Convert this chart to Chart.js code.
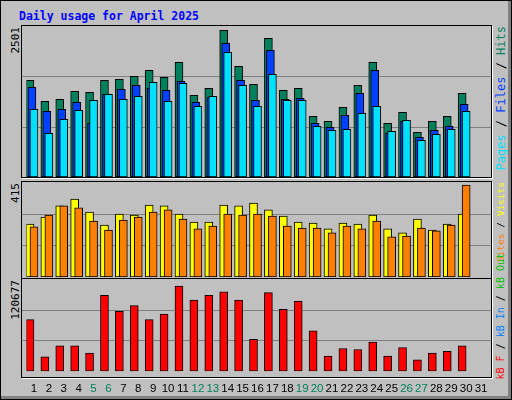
<!DOCTYPE html>
<html>
<head>
<meta charset="utf-8">
<script src="https://cdn.jsdelivr.net/npm/chart.js@4"></script>
<style>
  body { margin: 0; }
  #wrap { position: relative; width: 512px; height: 400px; background: #c0c0c0; box-sizing: border-box;
    border: 1px solid #000; box-shadow: inset -3px -3px 0 #808080; overflow: hidden; }
  .panel { position: absolute; left: 20px; width: 469px; background: #c0c0c0; border: 1px solid #000;
    box-shadow: 1px 1px 0 #fff; }
  canvas { position: absolute; }
  .vt { position: absolute; writing-mode: vertical-rl; transform: rotate(180deg); white-space: nowrap;
    font-family: "DejaVu Sans Mono", monospace; font-size: 11px; }
  #title { position: absolute; left: 18px; top: 8px; color: #0000ff; font: bold 11.5px "DejaVu Sans Mono", monospace; }
</style>
</head>
<body>
<div id="wrap">
  <div id="title">Daily usage for April 2025</div>
  <div class="panel" style="top:24px;height:151px"></div>
  <div class="panel" style="top:180px;height:96px"></div>
  <div class="panel" style="top:277px;height:98px"></div>
  <canvas id="c1" style="left:21px;top:25px;width:469px;height:151px"></canvas>
  <canvas id="c2" style="left:21px;top:181px;width:469px;height:95px"></canvas>
  <canvas id="c3" style="left:21px;top:278px;width:469px;height:120px"></canvas>
  <div class="vt" style="left:8px;top:26px">2501</div>
  <div class="vt" style="left:8px;top:182px">415</div>
  <div class="vt" style="left:8px;top:279px">120677</div>
  <div class="vt" style="left:493px;top:25px;font-size:12px"><span style="color:#00e0ff">Pages</span> / <span style="color:#0040ff">Files</span> / <span style="color:#00805c">Hits</span></div>
  <div class="vt" style="left:494px;top:181px;font-size:9.5px"><span style="color:#ff8000">Sites</span> / <span style="color:#ffff00">Visits</span></div>
  <div class="vt" style="left:494px;bottom:20px;font-size:10px"><span style="color:#ff0000">kB F</span> / <span style="color:#0080ff">kB In</span> / <span style="color:#00c000">kB Out</span></div>
</div>
<script>
const days = Array.from({ length: 31 }, (_, i) => String(i + 1))
const weekends = ["5", "6", "12", "13", "19", "20", "26", "27"]

const hits = [1648, 1290, 1324, 1461, 1444, 1648, 1665, 1717, 1819, 1700, 1955, 1393, 1512, 2501, 1887, 1580, 2365, 1478, 1512, 1034, 949, 1188, 1563, 1955, 915, 1103, 762, 949, 1034, 1427]
const files = [1529, 1120, 1154, 1273, 915, 1410, 1495, 1563, 1512, 1478, 1631, 1273, 1358, 2279, 1648, 1307, 2160, 1324, 1341, 915, 847, 1052, 1427, 1819, 745, 949, 676, 796, 864, 1239]
const pages = [1154, 745, 983, 1137, 1307, 1410, 1324, 1376, 1614, 1290, 1597, 1205, 1376, 2126, 1563, 1205, 1751, 1307, 1307, 864, 796, 813, 1086, 1205, 779, 966, 625, 728, 813, 1120]
const visits = [239, 271, 321, 352, 293, 235, 284, 280, 325, 321, 284, 248, 248, 325, 321, 334, 303, 275, 248, 244, 217, 244, 239, 280, 217, 199, 262, 212, 239, 284]
const sites = [226, 280, 321, 312, 253, 212, 257, 271, 293, 303, 262, 217, 230, 284, 280, 284, 275, 230, 221, 221, 199, 230, 217, 253, 181, 185, 221, 208, 235, 415]
const kbytes = [73100, 20260, 36100, 36100, 25540, 107460, 85000, 92920, 73100, 81030, 120677, 100850, 107460, 112740, 100850, 45360, 111420, 87640, 99530, 57250, 21580, 32150, 30830, 41400, 21580, 33470, 16290, 25540, 28190, 36100]

// shift each dataset sideways so bars overlap like webalizer
const shiftPlugin = {
  id: "shift",
  afterDatasetsUpdate(chart) {
    chart.data.datasets.forEach((ds, i) => {
      chart.getDatasetMeta(i).data.forEach((el) => { el.x += ds.shift })
    })
  },
  beforeDatasetsDraw(chart) {
    const { ctx } = chart
    const y = chart.scales.y
    ctx.save()
    ctx.strokeStyle = "#808080"
    ctx.lineWidth = 1
    ;[1, 2].forEach((k) => {
      const py = Math.round(y.getPixelForValue(y.max * k / 3)) + 0.5
      ctx.beginPath(); ctx.moveTo(0, py); ctx.lineTo(chart.width, py); ctx.stroke()
    })
    ctx.restore()
  },
}

// later series sit in front (lower order = drawn on top)
const bar = (data, color, shift, order) => ({
  data, shift, order, backgroundColor: color, borderColor: "#000", borderWidth: 1,
  borderSkipped: false, barThickness: 8, grouped: false,
})

const makeChart = (id, datasets, max, showX) => new Chart(document.getElementById(id), {
  type: "bar",
  data: { labels: days, datasets },
  plugins: [shiftPlugin],
  options: {
    responsive: false, animation: false, events: [],
    layout: { padding: { left: 4.5, right: 2.5, top: 0, bottom: 0 } },
    plugins: { legend: { display: false }, tooltip: { enabled: false } },
    scales: {
      x: {
        display: showX, offset: true,
        grid: { display: false }, border: { display: false },
        ticks: {
          maxRotation: 0, autoSkip: false, padding: 3,
          font: { family: "Liberation Sans", size: 11.5 },
          color: (c) => weekends.includes(days[c.index]) ? "#00805c" : "#000",
        },
      },
      y: { display: false, min: 0, max },
    },
  },
})

makeChart("c1", [bar(hits, "#00805c", -4, 3), bar(files, "#0040ff", -2, 2), bar(pages, "#00e0ff", 0, 1)], 2576, false)
makeChart("c2", [bar(visits, "#ffff00", -4, 2), bar(sites, "#ff8000", 0, 1)], 429, false)
makeChart("c3", [bar(kbytes, "#ff0000", -4, 1)], 130800, true)
</script>
</body>
</html>
